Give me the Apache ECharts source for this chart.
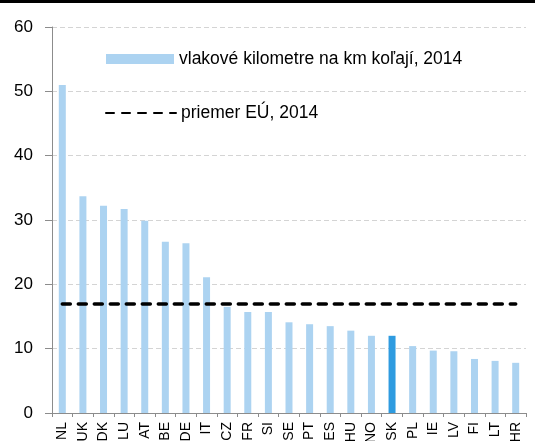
<!DOCTYPE html>
<html>
<head>
<meta charset="utf-8">
<script src="https://cdn.jsdelivr.net/npm/echarts@6/dist/echarts.min.js"></script>
<style>
  html, body { margin: 0; padding: 0; background: #fff; }
  #myChart { width: 535px; height: 441px; }
</style>
</head>
<body>
<div id="myChart"></div>
<script>
// krajiny (os x)
var countries = ['NL', 'UK', 'DK', 'LU', 'AT', 'BE', 'DE', 'IT', 'CZ', 'FR', 'SI', 'SE',
                 'PT', 'ES', 'HU', 'NO', 'SK', 'PL', 'IE', 'LV', 'FI', 'LT', 'HR'];
// vlakove kilometre na km kolaji, 2014
var trainKm = [51.0, 33.7, 32.2, 31.7, 29.9, 26.6, 26.4, 21.1, 16.5, 15.7, 15.7, 14.1,
               13.8, 13.5, 12.8, 12.0, 12.0, 10.4, 9.7, 9.6, 8.4, 8.1, 7.8];
var euAvg = 17.0;
var yTicks = [0, 10, 20, 30, 40, 50, 60];
var highlight = 'SK';

var barName = 'vlakové kilometre na km koľají, 2014';
var lineName = 'priemer EÚ, 2014';

var lightBlue = '#acd3f1';
var darkBlue = '#2e9be0';
var font = '"Liberation Sans", Arial, sans-serif';

var myChart = echarts.init(document.getElementById('myChart'));

var barData = countries.map(function (c, i) {
    return {
        value: trainKm[i],
        itemStyle: { color: c === highlight ? darkBlue : lightBlue }
    };
});

var option = {
    animation: false,
    textStyle: { fontFamily: font },
    grid: { left: 52, right: 9, top: 27, bottom: 28, outerBoundsMode: 'none', containLabel: false },
    graphic: [{
        type: 'rect',
        shape: { x: 0, y: 0, width: 535, height: 3 },
        style: { fill: '#000' }
    }],
    legend: [{
        data: [{ name: barName, icon: 'rect' }],
        left: 101, top: 45,
        itemWidth: 68, itemHeight: 10, itemGap: 0,
        textStyle: { fontSize: 17.5, color: '#000', fontFamily: font }
    }, {
        data: [lineName],
        left: 100, top: 99,
        itemWidth: 70, itemHeight: 4,
        itemStyle: { opacity: 0 },
        textStyle: { fontSize: 17.5, color: '#000', fontFamily: font }
    }],
    xAxis: {
        type: 'category',
        data: countries,
        axisLine: { lineStyle: { color: '#8c8c8c', width: 1 } },
        axisTick: { show: true, length: 4, lineStyle: { color: '#8c8c8c' } },
        axisLabel: {
            rotate: 90, margin: 9, fontSize: 14, color: '#000',
            fontFamily: font, interval: 0
        }
    },
    yAxis: {
        type: 'value',
        min: yTicks[0], max: yTicks[yTicks.length - 1], interval: 10,
        axisLine: { show: true, lineStyle: { color: '#8c8c8c', width: 1 } },
        axisTick: { show: true, length: 7, lineStyle: { color: '#8c8c8c' } },
        axisLabel: { margin: 19, fontSize: 17, color: '#000', fontFamily: font },
        splitLine: { show: true, lineStyle: { color: '#d4d4d4', type: [5, 3], width: 1 } }
    },
    series: [{
        name: barName,
        type: 'bar',
        barWidth: 7,
        itemStyle: { color: lightBlue },
        data: barData
    }, {
        name: lineName,
        type: 'line',
        symbol: 'none',
        color: '#000',
        lineStyle: { color: '#000', width: 3.5, type: [8, 8], cap: 'round' },
        data: [],
        markLine: {
            silent: true,
            symbol: 'none',
            label: { show: false },
            lineStyle: { color: '#000', width: 3.5, type: [8, 8], cap: 'round' },
            data: [[{ coord: [countries[0], euAvg] },
                    { coord: [countries[countries.length - 1], euAvg] }]]
        }
    }]
};

myChart.setOption(option);
</script>
</body>
</html>
